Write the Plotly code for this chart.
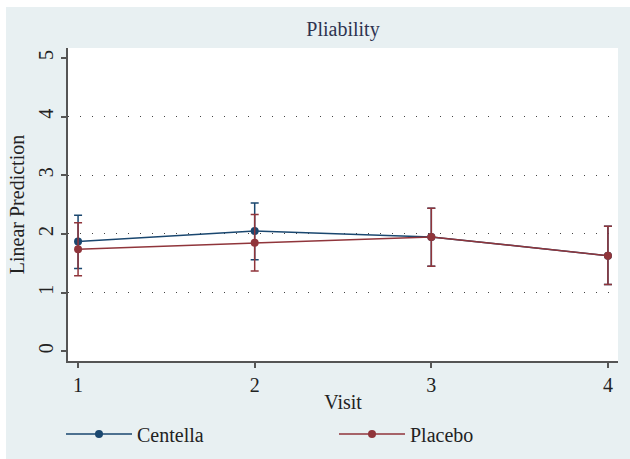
import plotly.graph_objects as go

visits = [1, 2, 3, 4]
centella_mean = [1.87, 2.05, 1.95, 1.63]
centella_lo = [1.41, 1.56, 1.45, 1.14]
centella_hi = [2.32, 2.53, 2.44, 2.13]
placebo_mean = [1.74, 1.85, 1.95, 1.63]
placebo_lo = [1.29, 1.37, 1.45, 1.14]
placebo_hi = [2.19, 2.33, 2.44, 2.13]
y_ticks = [0, 1, 2, 3, 4, 5]
grid_vals = [1, 2, 3, 4]

BG = "#e8f0f2"
FONT = "Liberation Serif"
NAVY = "#1a476f"
MAROON = "#90353b"

fig = go.Figure()


def add_series(name, mean, lo, hi, color):
    fig.add_trace(go.Scatter(
        x=visits, y=mean, name=name, mode="lines+markers",
        line=dict(color=color, width=1.5),
        marker=dict(color=color, size=8),
        error_y=dict(type="data", symmetric=False,
                     array=[h - m for h, m in zip(hi, mean)],
                     arrayminus=[m - l for m, l in zip(mean, lo)],
                     color=color, thickness=1.5, width=4),
    ))


add_series("Centella", centella_mean, centella_lo, centella_hi, NAVY)
add_series("Placebo", placebo_mean, placebo_lo, placebo_hi, MAROON)

# invisible trace on overlay axis for the dotted grid at 1..4
fig.add_trace(go.Scatter(x=[visits[0]], y=[grid_vals[0]], yaxis="y2",
                         mode="markers", marker=dict(opacity=0),
                         showlegend=False, hoverinfo="skip"))

W, H = 630, 459
L, R, T, B = 68, 12, 48, 98
pw, ph = W - L - R, H - T - B

fig.update_layout(
    width=W, height=H,
    margin=dict(l=L, r=R, t=T, b=B, pad=0, autoexpand=False),
    paper_bgcolor=BG, plot_bgcolor="white",
    font=dict(family=FONT, size=20, color="#222222"),
    title=dict(text="Pliability", x=0.5, xref="paper", xanchor="center",
               y=1 - 29 / H, yanchor="middle",
               font=dict(family=FONT, size=20, color="#2e3350")),
    xaxis=dict(range=[0.943, 4.057], tickvals=visits, ticktext=[str(v) for v in visits],
               showline=True, linecolor="#555555", linewidth=1.5,
               ticks="outside", ticklen=5, tickcolor="#555555", tickwidth=1.5,
               showgrid=False, zeroline=False,
               title=dict(text="Visit", standoff=0, font=dict(size=20)),
               tickfont=dict(size=20)),
    yaxis=dict(range=[-0.165, 5.17], tickvals=y_ticks,
               showline=True, linecolor="#555555", linewidth=1.5,
               ticks="outside", ticklen=5, tickcolor="#555555", tickwidth=1.5,
               showgrid=False, zeroline=False, tickangle=-90,
               title=dict(text="Linear Prediction", standoff=5, font=dict(size=20)),
               tickfont=dict(size=20)),
    yaxis2=dict(range=[-0.165, 5.17], overlaying="y", tickvals=grid_vals,
                showticklabels=False, showline=False, zeroline=False,
                showgrid=True, gridcolor="#444444", gridwidth=1,
                griddash="1px,11px"),
    legend=dict(orientation="h", x=-7 / pw, xanchor="left", y=-(434 - T - ph) / ph,
                yanchor="middle", bgcolor="rgba(0,0,0,0)",
                itemwidth=66, entrywidth=192, entrywidthmode="pixels",
                font=dict(family=FONT, size=20, color="#222222")),
    showlegend=True,
)

# white outer margin at top and left, as in the reference image
fig.add_shape(type="rect", xref="paper", yref="paper",
              x0=-L / pw, x1=(6 - L) / pw, y0=-B / ph, y1=1 + T / ph,
              fillcolor="white", line_width=0, layer="above")
fig.add_shape(type="rect", xref="paper", yref="paper",
              x0=-L / pw, x1=1 + R / pw, y0=1 + (T - 7) / ph, y1=1 + T / ph,
              fillcolor="white", line_width=0, layer="above")

fig.write_html("out.html")
